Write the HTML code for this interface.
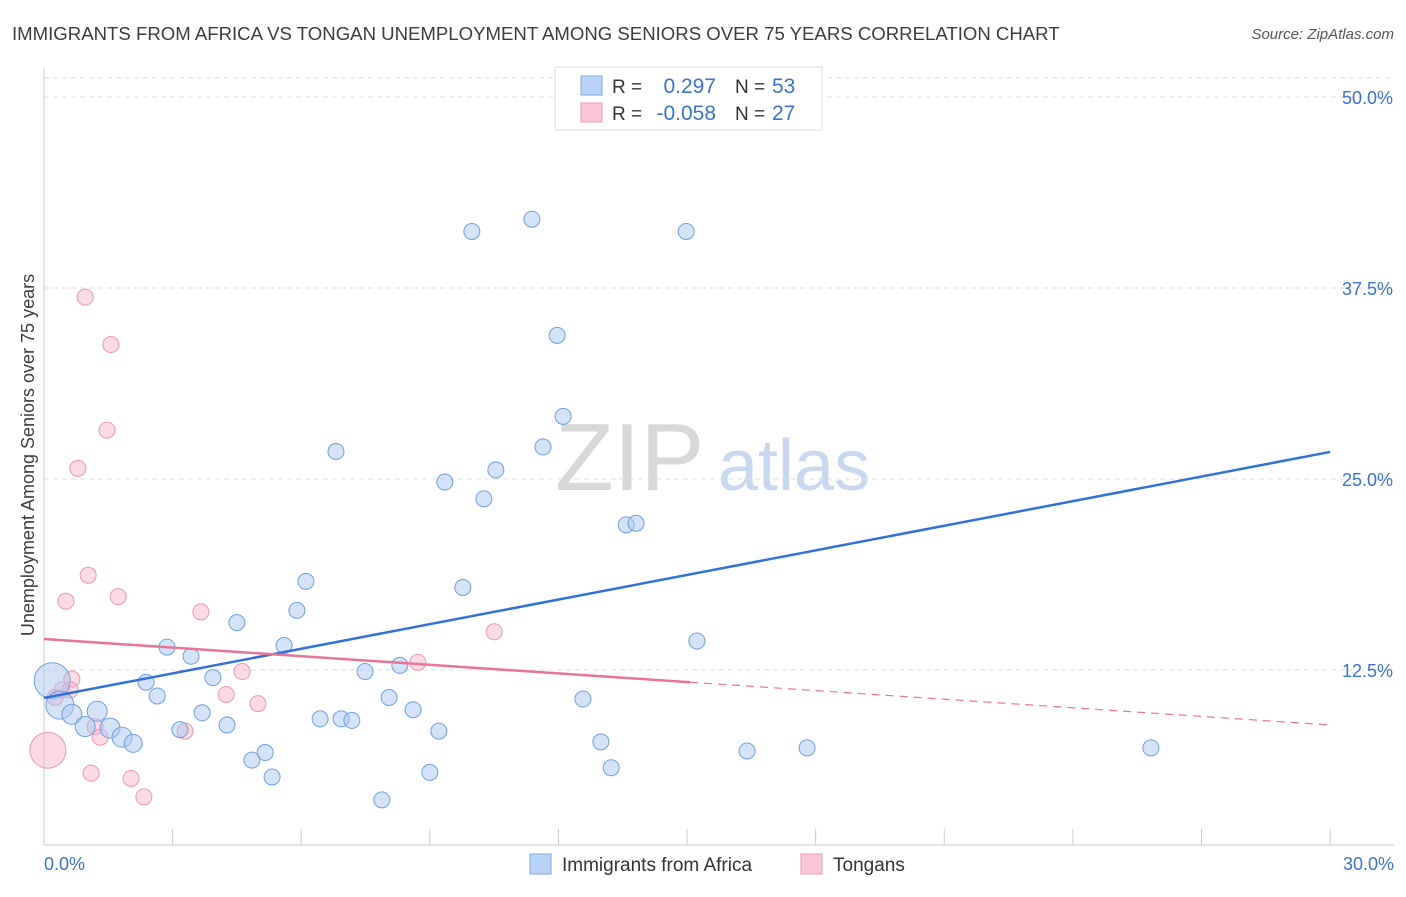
<!DOCTYPE html>
<html><head><meta charset="utf-8"><style>
body{margin:0;background:#fff;font-family:"Liberation Sans",sans-serif;}
svg text{font-family:"Liberation Sans",sans-serif;}
</style></head><body>
<svg id="c" width="1406" height="892" xmlns="http://www.w3.org/2000/svg">
<text x="12" y="40" font-size="18.6" fill="#3c3c3c">IMMIGRANTS FROM AFRICA VS TONGAN UNEMPLOYMENT AMONG SENIORS OVER 75 YEARS CORRELATION CHART</text>
<text x="1394" y="39" font-size="15" fill="#555" text-anchor="end" font-style="italic">Source: ZipAtlas.com</text>
<text x="555" y="490" font-size="96" fill="#d8d8d8" font-family="Liberation Serif">ZIP</text>
<text x="718" y="490" font-size="72" fill="#c8d8f0">atlas</text>
<text transform="translate(34,455) rotate(-90)" font-size="18" fill="#3c3c3c" text-anchor="middle">Unemployment Among Seniors over 75 years</text>
<g id="grid"></g><g id="pts"></g><g id="lines"></g>
<g>
<rect x="555" y="67" width="267" height="63" fill="#fff" stroke="#ddd"/>
<rect x="581" y="76" width="21" height="19" fill="#b9d3f4" stroke="#7aa8e6"/>
<rect x="581" y="103" width="21" height="19" fill="#fbc7d6" stroke="#ee9ab4"/>
<text x="612" y="93" font-size="19" fill="#333">R =</text><text x="716" y="93" font-size="21" fill="#3a72d0" text-anchor="end">0.297</text>
<text x="735" y="93" font-size="19" fill="#333">N =</text><text x="772" y="93" font-size="21" fill="#3a72d0">53</text>
<text x="612" y="120" font-size="19" fill="#333">R =</text><text x="716" y="120" font-size="21" fill="#3a72d0" text-anchor="end">-0.058</text>
<text x="735" y="120" font-size="19" fill="#333">N =</text><text x="772" y="120" font-size="21" fill="#3a72d0">27</text>
</g>
<g>
<rect x="530" y="854" width="21" height="20" fill="#b9d3f4" stroke="#7aa8e6"/>
<text x="562" y="871" font-size="19" fill="#333">Immigrants from Africa</text>
<rect x="801" y="854" width="21" height="20" fill="#fbc7d6" stroke="#ee9ab4"/>
<text x="833" y="871" font-size="19" fill="#333">Tongans</text>
</g>
</svg>
<script>
const yTicks=[50,37.5,25,12.5];
const yTickLabels=["50.0%","37.5%","25.0%","12.5%"];
const xTickLabels=["0.0%","30.0%"];
const blueX=[9.98,11.38,14.98,11.97,12.11,11.64,6.81,9.35,10.54,10.26,13.58,13.81,6.11,9.77,5.90,4.50,2.87,3.43,5.60,15.23,2.38,2.64,3.94,8.30,7.49,8.05,8.61,12.57,3.69,3.17,4.27,6.44,6.93,7.18,9.21,5.16,4.85,5.32,9.00,7.88,12.99,13.23,16.40,17.80,25.82,0.19,0.37,0.65,1.24,0.96,1.54,1.82,2.08];
const blueY=[41.2,42.0,41.2,34.4,29.1,27.1,26.8,24.8,25.6,23.7,22.0,22.1,18.3,17.9,16.4,15.6,14.0,13.4,14.1,14.4,11.7,10.8,12.0,12.8,12.4,10.7,9.9,10.6,9.7,8.6,8.9,9.3,9.3,9.2,8.5,7.1,6.6,5.5,5.8,4.0,7.8,6.1,7.2,7.4,7.4,11.8,10.2,9.6,9.8,8.8,8.7,8.1,7.7];
const blueR=[8,8,8,8,8,8,8,8,8,8,8,8,8,8,8,8,8,8,8,8,8,8,8,8,8,8,8,8,8,8,8,8,8,8,8,8,8,8,8,8,8,8,8,8,8,18,14,10,10,10,10,10,9];
const pinkX=[0.96,1.56,1.47,0.79,1.03,0.51,1.73,3.66,10.50,8.72,4.62,0.65,0.42,0.61,0.26,4.25,4.99,1.19,1.31,3.29,1.10,2.03,2.33,0.09];
const pinkY=[36.9,33.8,28.2,25.7,18.7,17.0,17.3,16.3,15.0,13.0,12.4,11.9,11.2,11.2,10.7,10.9,10.3,8.8,8.1,8.5,5.75,5.4,4.2,7.25];
const pinkR=[8,8,8,8,8,8,8,8,8,8,8,8,8,8,8,8,8,8,8,8,8,8,8,18];
const blueTrend=[10.67,26.77];
const pinkTrend=[14.53,8.9];
const pinkSolidEnd=15.07;
const NS="http://www.w3.org/2000/svg";
const X=v=>44+v*42.87, Y=v=>861-v*15.28;
function mk(t,a,p){const e=document.createElementNS(NS,t);for(const k in a)e.setAttribute(k,a[k]);p.appendChild(e);return e;}
const g=document.getElementById('grid');
mk('line',{x1:44,y1:78,x2:1394,y2:78,stroke:'#ddd','stroke-dasharray':'5,4'},g);
yTicks.forEach((t,i)=>{
 const l=mk('line',{x1:44,y1:Y(t),x2:1394,y2:Y(t),stroke:'#ddd','stroke-dasharray':'5,4'},g);
 
 
 const tx=mk('text',{x:1393,y:Y(t)+7,'font-size':18,fill:'#3a72d0','text-anchor':'end'},g);
 tx.textContent=yTickLabels[i];
 
 
});
mk('line',{x1:44,y1:68,x2:44,y2:845,stroke:'#ccc'},g);
mk('line',{x1:44,y1:845,x2:1394,y2:845,stroke:'#ccc'},g);
for(let i=0;i<=10;i++){const t=mk('line',{x1:X(i*3),y1:829,x2:X(i*3),y2:845,stroke:'#ccc'},g);
 
 }
[[0,44,'start'],[30,1394,'end']].forEach((d,i)=>{const t=mk('text',{x:d[1],y:870,'font-size':18,fill:'#3a72d0','text-anchor':d[2]},g);t.textContent=xTickLabels[i];
 
 });
const p=document.getElementById('pts');
pinkX.forEach((x,i)=>{const c=mk('circle',{cx:X(x),cy:Y(pinkY[i]),r:pinkR[i],fill:'rgba(246,176,198,0.45)',stroke:'#eb96b2','stroke-width':1},p);
 
 });
blueX.forEach((x,i)=>{const c=mk('circle',{cx:X(x),cy:Y(blueY[i]),r:blueR[i],fill:'rgba(169,200,240,0.5)',stroke:'#6d9fe0','stroke-width':1},p);
 
 });
const L=document.getElementById('lines');
const bl=mk('line',{x1:X(0),y1:Y(blueTrend[0]),x2:X(30),y2:Y(blueTrend[1]),stroke:'#2f72d6','stroke-width':2.5},L);


const py=x=>pinkTrend[0]+(pinkTrend[1]-pinkTrend[0])*x/30;
const pl=mk('line',{x1:X(0),y1:Y(py(0)),x2:X(pinkSolidEnd),y2:Y(py(pinkSolidEnd)),stroke:'#e8729a','stroke-width':2.5},L);


const pd=mk('line',{x1:X(pinkSolidEnd),y1:Y(py(pinkSolidEnd)),x2:X(30),y2:Y(py(30)),stroke:'#e8729a','stroke-width':1.2,'stroke-dasharray':'8,6'},L);


</script>
</body></html>
